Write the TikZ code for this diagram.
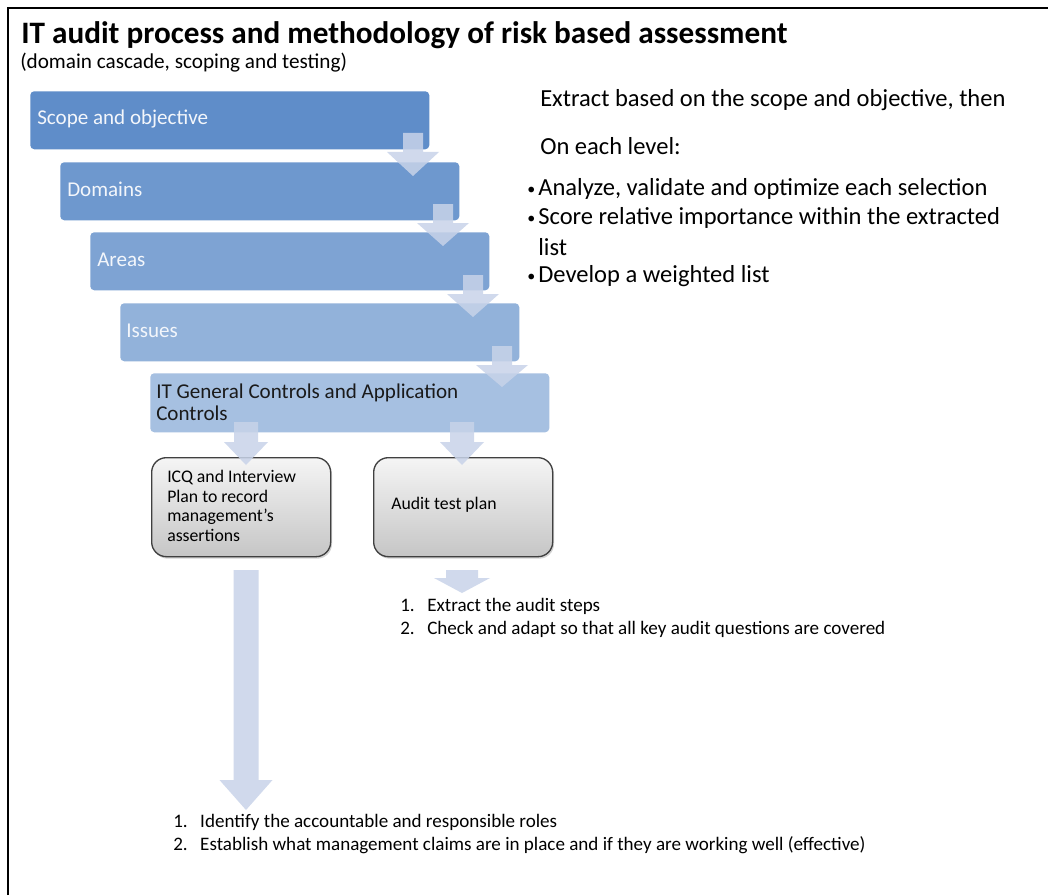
\documentclass[tikz,border=0pt]{standalone}
\usepackage{fontspec}
\setmainfont{Carlito}
\usetikzlibrary{shadows}
\definecolor{cscope}{HTML}{5F8DC9}
\definecolor{cdom}{HTML}{6E98CE}
\definecolor{carea}{HTML}{7EA3D3}
\definecolor{cissue}{HTML}{92B2DA}
\definecolor{citgc}{HTML}{A6C0E1}
\definecolor{carrow}{HTML}{C8D3E9}
\definecolor{lbl}{HTML}{F3F6FB}
\definecolor{txt}{HTML}{1A1A1A}
\newcommand\blockarrow[6]{%
  \fill[arrowshape] (#1-#5/2,#2) -- (#1+#5/2,#2) -- (#1+#5/2,#3) -- (#1+#6/2,#3)
    -- (#1,#4) -- (#1-#6/2,#3) -- (#1-#5/2,#3) -- cycle;}
\newcommand\mybul{\makebox[8.3pt][l]{\raisebox{0.5pt}{\fontsize{12}{12}\selectfont•}}}
\begin{document}
\begin{tikzpicture}[x=0.75pt,y=-0.75pt,
  lvl/.style={draw=none, rounded corners=3pt, anchor=north west, inner sep=0pt,
    minimum width=399*0.75pt, minimum height=58*0.75pt},
  boxlabel/.style={anchor=west, inner sep=0pt, text=lbl, font=\fontsize{15.8}{18}\selectfont},
  darklabel/.style={anchor=west, inner sep=0pt, text=txt, font=\fontsize{15.8}{16.5}\selectfont, align=left},
  graybox/.style={draw=black!75, line width=1pt, rounded corners=11pt, anchor=north west,
    inner sep=0pt, top color=gray!8, bottom color=gray!45,
    minimum width=179*0.75pt, minimum height=99*0.75pt,
    drop shadow={opacity=0.35, shadow xshift=1pt, shadow yshift=-1.5pt}},
  graylabel/.style={anchor=west, inner sep=0pt, text=black, font=\fontsize{13.3}{14.6}\selectfont, align=left},
  righttext/.style={anchor=west, inner sep=0pt, text=black, font=\fontsize{18.4}{20}\selectfont},
  listtext/.style={anchor=west, inner sep=0pt, text=black, font=\fontsize{14.3}{16}\selectfont},
  arrowshape/.style={fill=carrow, fill opacity=0.85}
]
\useasboundingbox (0,0) rectangle (1048,895);
\fill[white] (0,0) rectangle (1048,895);
\draw[black, line width=1.2pt] (8,895) -- (8,8) -- (1048,8);

% title
\node[anchor=west, inner sep=0pt, font=\bfseries\fontsize{23.4}{26}\selectfont] (title) at (21,35) {IT audit process and methodology of risk based assessment};
\node[anchor=west, inner sep=0pt, font=\fontsize{15.9}{18}\selectfont] (subtitle) at (20,63) {(domain cascade, scoping and testing)};

% cascade boxes
\node[lvl, fill=cscope] (scope) at (30,91) {};
\node[lvl, fill=cdom] (dom) at (60,162) {};
\node[lvl, fill=carea] (area) at (90,232) {};
\node[lvl, fill=cissue] (issue) at (120,303) {};
\node[lvl, fill=citgc, minimum height=59*0.75pt] (itgc) at (150,373) {};

\node[boxlabel] (scopet) at (37,119) {Scope and objective};
\node[boxlabel] (domt) at (67,189) {Domains};
\node[boxlabel] (areat) at (97,260) {Areas};
\node[boxlabel] (issuet) at (126,331) {Issues};
\node[darklabel] (itgct) at (156,402) {IT General Controls and Application\\Controls};

% cascade arrows
\blockarrow{413}{133}{152}{176}{20}{52}
\blockarrow{443}{204}{223}{246}{20}{52}
\blockarrow{473}{275}{294}{317}{20}{52}
\blockarrow{502}{346}{365}{387}{20}{52}

% lower boxes
\node[graybox] (icq) at (151,457) {};
\node[graybox] (atp) at (373,457) {};
\blockarrow{246}{422}{442}{465}{24}{44}
\blockarrow{462}{422}{442}{465}{24}{44}
\node[graylabel] (icqt) at (167,506) {ICQ and Interview\\Plan to record\\management’s\\assertions};
\node[graylabel] (atpt) at (391,505) {Audit test plan};

% lower arrows
\blockarrow{246}{570}{780}{810}{25}{53}
\blockarrow{462}{570}{578}{593}{32}{56}

% right text
\node[righttext] (r1) at (540,100) {Extract based on the scope and objective, then};
\node[righttext] (r2) at (540,146) {On each level:};
\node[righttext] (r3) at (527,189) {\mybul Analyze, validate and optimize each selection};
\node[righttext] (r4) at (527,218) {\mybul Score relative importance within the extracted};
\node[righttext] (r5) at (538,247) {list};
\node[righttext] (r6) at (527,276) {\mybul Develop a weighted list};

% lists
\node[listtext] (a1) at (400,606) {\makebox[20.25pt][l]{1.}Extract the audit steps};
\node[listtext] (a2) at (400,629) {\makebox[20.25pt][l]{2.}Check and adapt so that all key audit questions are covered};
\node[listtext] (b1) at (173,822) {\makebox[20.25pt][l]{1.}Identify the accountable and responsible roles};
\node[listtext] (b2) at (173,845) {\makebox[20.25pt][l]{2.}Establish what management claims are in place and if they are working well (effective)};
\end{tikzpicture}
\end{document}
